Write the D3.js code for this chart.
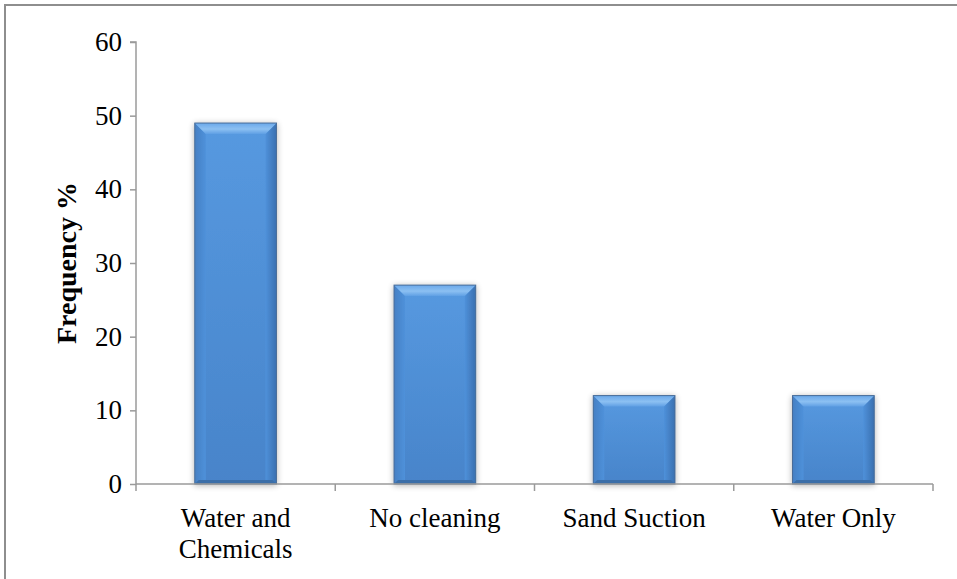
<!DOCTYPE html>
<html>
<head>
<meta charset="utf-8">
<script src="https://cdnjs.cloudflare.com/ajax/libs/d3/7.8.5/d3.min.js"></script>
<style>
  html, body { margin: 0; padding: 0; background: #fff; }
  svg { display: block; }
  svg text { font-family: "Liberation Serif", "DejaVu Serif", serif; }
</style>
</head>
<body>
<svg id="chart" width="957" height="579"></svg>
<script>
// Cleaning method frequencies (%)
const categories = [["Water and", "Chemicals"], ["No cleaning"], ["Sand Suction"], ["Water Only"]];
const values = [49, 27, 12, 12];
const yTicks = [0, 10, 20, 30, 40, 50, 60];
const yTitle = "Frequency %";

const FONT = "Liberation Serif";
const svg = d3.select("#chart");
const W = 957, H = 579;
const margin = { left: 136, right: 24, top: 42, bottom: 95 };
const plotRight = W - margin.right;
const plotBottom = H - margin.bottom;

// outer frame
svg.append("rect")
  .attr("x", 5).attr("y", 5).attr("width", W + 10).attr("height", H + 10)
  .attr("fill", "none").attr("stroke", "#8e8e8e").attr("stroke-width", 2);

const keys = categories.map((c, i) => i);
const x = d3.scaleBand().domain(keys).range([margin.left, plotRight]).paddingInner(0.59).paddingOuter(0.295);
const y = d3.scaleLinear().domain([0, 60]).range([plotBottom, margin.top]);

const defs = svg.append("defs");
const face = defs.append("linearGradient").attr("id", "face").attr("x1", 0).attr("y1", 0).attr("x2", 0).attr("y2", 1);
face.append("stop").attr("offset", "0%").attr("stop-color", "#5699e0");
face.append("stop").attr("offset", "100%").attr("stop-color", "#4884ca");
const side = defs.append("linearGradient").attr("id", "sideL").attr("x1", 0).attr("y1", 0).attr("x2", 1).attr("y2", 0);
side.append("stop").attr("offset", "0%").attr("stop-color", "#4580c4");
side.append("stop").attr("offset", "100%").attr("stop-color", "#4f91da");
const sideR = defs.append("linearGradient").attr("id", "sideR").attr("x1", 0).attr("y1", 0).attr("x2", 1).attr("y2", 0);
sideR.append("stop").attr("offset", "0%").attr("stop-color", "#4f91da");
sideR.append("stop").attr("offset", "100%").attr("stop-color", "#3a70b0");
const topG = defs.append("linearGradient").attr("id", "topG").attr("x1", 0).attr("y1", 0).attr("x2", 0).attr("y2", 1);
topG.append("stop").attr("offset", "0%").attr("stop-color", "#6aa8ea");
topG.append("stop").attr("offset", "55%").attr("stop-color", "#8cc0f2");
topG.append("stop").attr("offset", "100%").attr("stop-color", "#5f9fe4");
const shadow = defs.append("filter").attr("id", "shadow").attr("x", "-20%").attr("y", "-10%").attr("width", "140%").attr("height", "120%");
shadow.append("feGaussianBlur").attr("in", "SourceAlpha").attr("stdDeviation", 3).attr("result", "b");
shadow.append("feOffset").attr("in", "b").attr("dx", 0).attr("dy", 1).attr("result", "o");
shadow.append("feComponentTransfer").attr("in", "o").attr("result", "s")
  .append("feFuncA").attr("type", "linear").attr("slope", 0.3);
const merge = shadow.append("feMerge");
merge.append("feMergeNode").attr("in", "s");
merge.append("feMergeNode").attr("in", "SourceGraphic");

// bars with bevelled edges
const bev = 11;
const bars = svg.append("g").selectAll("g").data(values).join("g").attr("filter", "url(#shadow)");
bars.each(function (v, i) {
  const g = d3.select(this);
  const x0 = x(i), x1 = x(i) + x.bandwidth();
  const y0 = y(v), y1 = y(0);
  g.append("rect").attr("x", x0).attr("y", y0).attr("width", x1 - x0).attr("height", y1 - y0).attr("fill", "url(#face)");
  g.append("polygon").attr("points", [[x0, y0], [x0 + bev, y0 + bev], [x0 + bev, y1 - 4], [x0, y1]].join(" ")).attr("fill", "url(#sideL)");
  g.append("polygon").attr("points", [[x1, y0], [x1 - bev, y0 + bev], [x1 - bev, y1 - 4], [x1, y1]].join(" ")).attr("fill", "url(#sideR)");
  g.append("polygon").attr("points", [[x0, y0], [x1, y0], [x1 - bev, y0 + bev], [x0 + bev, y0 + bev]].join(" ")).attr("fill", "url(#topG)");
  g.append("polygon").attr("points", [[x0, y1], [x1, y1], [x1 - 4, y1 - 4], [x0 + 4, y1 - 4]].join(" ")).attr("fill", "#3a6ea8");
  g.append("rect").attr("x", x0).attr("y", y0).attr("width", x1 - x0).attr("height", y1 - y0)
    .attr("fill", "none").attr("stroke", "#4a6d98").attr("stroke-width", 1);
});

// y axis
const yAxis = d3.axisLeft(y).tickValues(yTicks).tickSize(6).tickPadding(8);
const gy = svg.append("g").attr("transform", `translate(${margin.left},0)`).call(yAxis)
  .attr("font-family", FONT).attr("font-size", 27);
gy.select(".domain").attr("stroke", "#9a9a9a").attr("stroke-width", 1.5).attr("d", `M-6,${y(60)}H0V${y(0)}`);
gy.selectAll(".tick line").attr("stroke", "#9a9a9a").attr("stroke-width", 1.5);
gy.selectAll(".tick text").attr("fill", "#000");

// x axis
const gx = svg.append("g").attr("transform", `translate(0,${plotBottom})`)
  .attr("font-family", FONT).attr("font-size", 27);
gx.append("line").attr("x1", margin.left).attr("x2", plotRight).attr("stroke", "#9a9a9a").attr("stroke-width", 1.5);
const bounds = d3.range(categories.length + 1).map(k => margin.left + k * (plotRight - margin.left) / categories.length);
gx.selectAll("line.tk").data(bounds).join("line").attr("class", "tk")
  .attr("x1", d => d).attr("x2", d => d).attr("y1", 0).attr("y2", 7)
  .attr("stroke", "#9a9a9a").attr("stroke-width", 1.5);
const labels = gx.selectAll("text").data(categories).join("text")
  .attr("text-anchor", "middle").attr("fill", "#000")
  .attr("transform", (d, i) => `translate(${x(i) + x.bandwidth() / 2},0)`);
labels.selectAll("tspan").data(d => d).join("tspan")
  .attr("x", 0).attr("y", (d, j) => 43 + j * 31).text(d => d);

// y title
svg.append("text")
  .attr("transform", `translate(76,${(y(0) + y(60)) / 2}) rotate(-90)`)
  .attr("text-anchor", "middle").attr("font-family", FONT).attr("font-size", 28)
  .attr("font-weight", "bold").attr("fill", "#000")
  .text(yTitle);
</script>
</body>
</html>
